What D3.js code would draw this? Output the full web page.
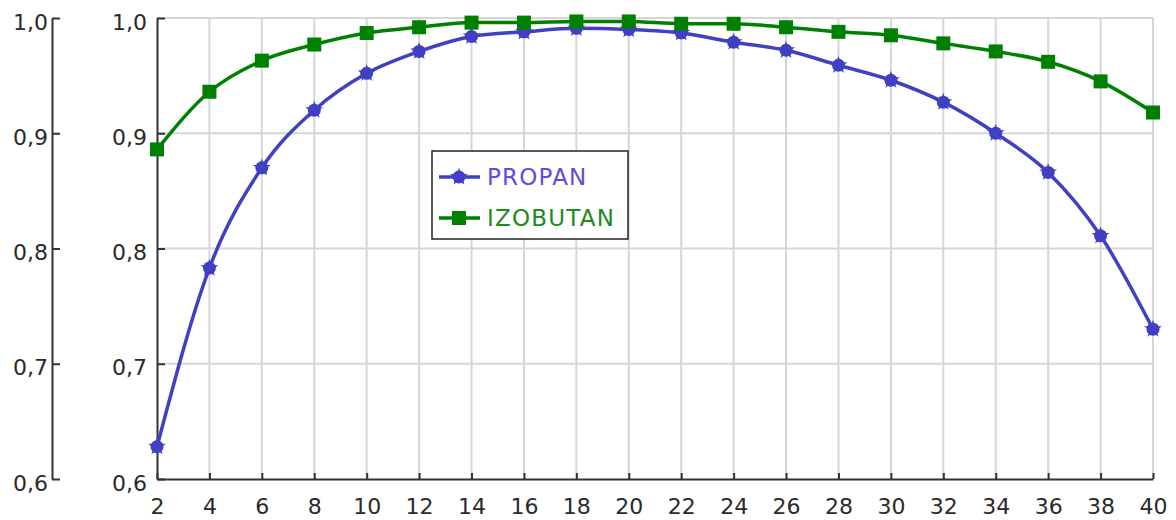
<!DOCTYPE html>
<html>
<head>
<meta charset="utf-8">
<script src="https://cdn.jsdelivr.net/npm/d3@7"></script>
<style>
  body { margin: 0; background: #fff; }
  svg { display: block; }
  text { font-family: "DejaVu Sans", Verdana, sans-serif; }
</style>
</head>
<body>
<div id="chart"></div>
<script>
var categories = [2, 4, 6, 8, 10, 12, 14, 16, 18, 20, 22, 24, 26, 28, 30, 32, 34, 36, 38, 40];
var propan = [0.628, 0.783, 0.870, 0.920, 0.952, 0.971, 0.984, 0.988, 0.991, 0.990,
              0.987, 0.979, 0.972, 0.959, 0.946, 0.927, 0.900, 0.866, 0.811, 0.730];
var izobutan = [0.886, 0.936, 0.963, 0.977, 0.987, 0.992, 0.996, 0.996, 0.997, 0.997,
                0.995, 0.995, 0.992, 0.988, 0.985, 0.978, 0.971, 0.962, 0.945, 0.918];
var yTicks = [0.6, 0.7, 0.8, 0.9, 1.0];
var seriesNames = ["PROPAN", "IZOBUTAN"];

var width = 1176, height = 520;
var plotLeft = 157, plotRight = 1153, plotTop = 18, plotBottom = 479;

var svg = d3.select("#chart").append("svg")
  .attr("width", width)
  .attr("height", height);

var x = d3.scaleLinear().domain([2, 40]).range([plotLeft, plotRight]);
var y = d3.scaleLinear().domain([0.6, 1.0]).range([plotBottom, plotTop]);

var fmt = function(d) { return d3.format(".1f")(d).replace(".", ","); };

// grid
var grid = svg.append("g");
grid.selectAll(".vg").data(categories.slice(1))
  .enter().append("line")
  .attr("x1", d => x(d)).attr("x2", d => x(d))
  .attr("y1", plotTop).attr("y2", plotBottom)
  .attr("stroke", "#d6d6d6").attr("stroke-width", 2);
grid.selectAll(".hg").data(yTicks.slice(1))
  .enter().append("line")
  .attr("x1", plotLeft).attr("x2", plotRight)
  .attr("y1", d => y(d)).attr("y2", d => y(d))
  .attr("stroke", "#d6d6d6").attr("stroke-width", 2);

function styleAxis(g) {
  g.select(".domain").attr("stroke", "#333").attr("stroke-width", 2);
  g.selectAll(".tick line").attr("stroke", "#333").attr("stroke-width", 2);
  g.selectAll(".tick text").attr("fill", "#2a2a2a").attr("font-size", "22px")
    .attr("font-family", "DejaVu Sans, Verdana, sans-serif");
}

// x axis
svg.append("g")
  .attr("transform", "translate(0," + plotBottom + ")")
  .call(d3.axisBottom(x).tickValues(categories).tickSizeInner(-6).tickSizeOuter(0).tickPadding(19))
  .call(styleAxis);

// y axis next to plot
svg.append("g")
  .attr("transform", "translate(" + plotLeft + ",0)")
  .call(d3.axisLeft(y).tickValues(yTicks).tickFormat(fmt).tickSizeInner(-8).tickSizeOuter(0).tickPadding(10))
  .call(styleAxis)
  .selectAll(".tick text").attr("dy", "0.5em");

// extra y axis on far left
svg.append("g")
  .attr("transform", "translate(52,0)")
  .call(d3.axisLeft(y).tickValues(yTicks).tickFormat(fmt).tickSizeInner(-8).tickSizeOuter(0).tickPadding(4))
  .call(styleAxis)
  .selectAll(".tick text").attr("dy", "0.5em");

var line = d3.line()
  .x((d, i) => x(categories[i]))
  .y(d => y(d))
  .curve(d3.curveMonotoneX);

var blue = "#4040c4", green = "#008000";

svg.append("path").datum(propan)
  .attr("d", line).attr("fill", "none")
  .attr("stroke", blue).attr("stroke-width", 3.5);
svg.append("path").datum(izobutan)
  .attr("d", line).attr("fill", "none")
  .attr("stroke", green).attr("stroke-width", 3.5);

var star = d3.symbol(d3.symbolStar).size(100);

function propanMarker(g, cx, cy) {
  g.append("circle").attr("cx", cx).attr("cy", cy).attr("r", 6.5).attr("fill", blue);
  g.append("path").attr("d", star).attr("transform", "translate(" + cx + "," + cy + ")").attr("fill", blue);
}
function izoMarker(g, cx, cy) {
  g.append("rect").attr("x", cx - 7).attr("y", cy - 7).attr("width", 14).attr("height", 14).attr("fill", green);
}

var marks = svg.append("g");
propan.forEach(function(v, i) { propanMarker(marks, x(categories[i]), y(v)); });
izobutan.forEach(function(v, i) { izoMarker(marks, x(categories[i]), y(v)); });

// legend
var lg = svg.append("g");
lg.append("rect").attr("x", 432).attr("y", 151).attr("width", 196).attr("height", 88)
  .attr("fill", "#fff").attr("stroke", "#222").attr("stroke-width", 1.5);
var rows = [
  { name: seriesNames[0], color: blue, text: "#5b4fd6", y: 177, mark: propanMarker },
  { name: seriesNames[1], color: green, text: "#1f8a1f", y: 218, mark: izoMarker }
];
rows.forEach(function(r) {
  lg.append("line").attr("x1", 439).attr("x2", 480).attr("y1", r.y).attr("y2", r.y)
    .attr("stroke", r.color).attr("stroke-width", 3.5);
  r.mark(lg, 459, r.y);
  lg.append("text").attr("x", 487).attr("y", r.y).attr("dy", "0.36em")
    .attr("font-size", "23px").attr("letter-spacing", "1.2px")
    .attr("fill", r.text).text(r.name);
});
</script>
</body>
</html>
